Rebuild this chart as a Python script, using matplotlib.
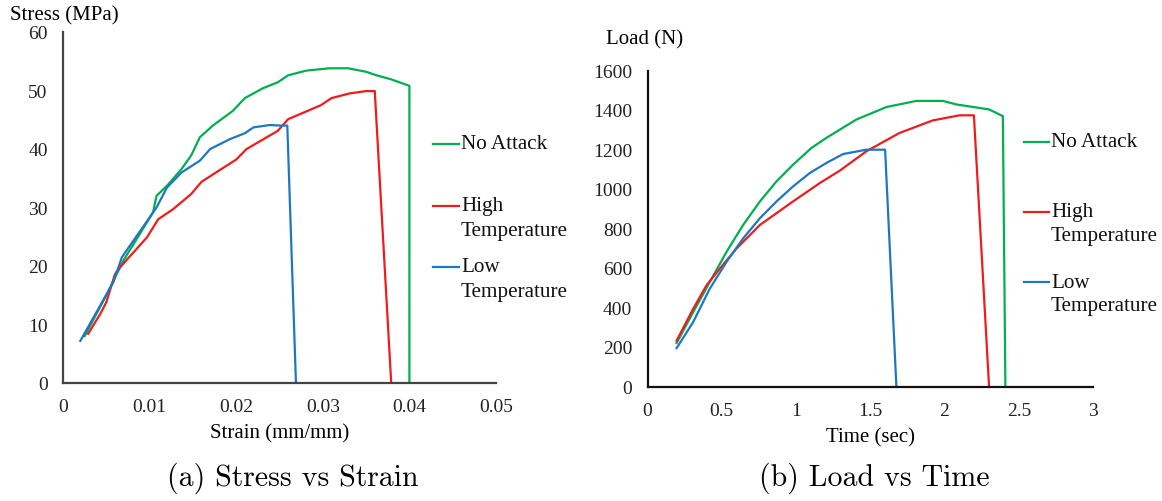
import matplotlib
matplotlib.use("Agg")
import matplotlib.pyplot as plt
from matplotlib.lines import Line2D

# (a) stress vs strain
strain_no = [0.0025, 0.005, 0.007, 0.0095, 0.0104, 0.0108, 0.012, 0.0137, 0.0148, 0.0158, 0.0173,
             0.0196, 0.021, 0.0231, 0.0248, 0.026, 0.0281, 0.0308, 0.0329, 0.035, 0.0362, 0.0379,
             0.040, 0.040]
stress_no = [8.0, 15.0, 21.0, 27.0, 29.2, 32.0, 33.7, 36.6, 38.9, 42.0, 44.0,
             46.5, 48.7, 50.4, 51.4, 52.6, 53.4, 53.8, 53.8, 53.2, 52.6, 51.9,
             50.8, 0.0]
strain_hi = [0.0029, 0.0043, 0.005, 0.006, 0.0066, 0.0097, 0.011, 0.0127, 0.0148, 0.016, 0.020,
             0.0212, 0.0248, 0.026, 0.0298, 0.031, 0.0331, 0.035, 0.036, 0.0379]
stress_hi = [8.4, 11.8, 13.8, 18.6, 19.8, 24.9, 28.0, 29.7, 32.3, 34.4, 38.2,
             40.0, 43.1, 45.1, 47.5, 48.7, 49.5, 49.9, 49.9, 0.0]
strain_lo = [0.002, 0.0058, 0.0068, 0.0108, 0.012, 0.0137, 0.0158, 0.017, 0.0193, 0.021, 0.022,
             0.0239, 0.0252, 0.0259, 0.0269]
stress_lo = [7.2, 17.2, 21.5, 30.0, 33.4, 36.0, 38.0, 40.0, 41.7, 42.7, 43.7,
             44.1, 44.0, 44.0, 0.0]

# (b) load vs time
time_no = [0.196, 0.308, 0.42, 0.533, 0.644, 0.757, 0.869, 0.98, 1.104, 1.205, 1.407, 1.609,
           1.81, 1.99, 2.08, 2.30, 2.393, 2.41]
load_no = [220, 377, 530, 683, 818, 937, 1039, 1123, 1208, 1259, 1352, 1415,
           1446, 1446, 1428, 1403, 1369, 0]
time_hi = [0.196, 0.308, 0.398, 0.488, 0.6, 0.757, 0.98, 1.16, 1.295, 1.474, 1.698, 1.92,
           2.10, 2.198, 2.30]
load_hi = [232, 394, 513, 598, 699, 818, 937, 1030, 1093, 1191, 1284, 1347,
           1373, 1373, 0]
time_lo = [0.196, 0.308, 0.42, 0.533, 0.644, 0.757, 0.869, 0.98, 1.093, 1.205, 1.317, 1.474,
           1.60, 1.676]
load_lo = [194, 327, 496, 632, 750, 852, 937, 1013, 1081, 1132, 1177, 1199,
           1199, 0]

labels = ["No Attack", "High\nTemperature", "Low\nTemperature"]
colors = ["#00b050", "#ee1c1c", "#1f77c4"]

plt.rcParams["font.family"] = ["Liberation Serif", "DejaVu Serif"]

W, H = 1162, 502
fig = plt.figure(figsize=(W / 100, H / 100), dpi=100)
ax1 = fig.add_axes([63 / W, 1 - 384 / H, 433 / W, 351 / H])
ax2 = fig.add_axes([647.5 / W, 1 - 387.5 / H, 445.5 / W, 316 / H])


def style(ax, spine_color):
    for s in ["top", "right"]:
        ax.spines[s].set_visible(False)
    for s in ["left", "bottom"]:
        ax.spines[s].set_color(spine_color)
        ax.spines[s].set_linewidth(1.6)
    ax.tick_params(length=0, labelsize=14, pad=11, colors="#222222")


def legend(x_line, x_text, rows, step):
    # manual legend so the uneven row gaps of the original can be kept
    for lab, c, y in zip(labels, colors, rows):
        fig.add_artist(Line2D([x_line[0] / W, x_line[1] / W], [1 - y / H, 1 - y / H],
                              color=c, lw=1.6))
        for i, part in enumerate(lab.split("\n")):
            fig.text(x_text / W, 1 - (y + i * step) / H, part, fontsize=15.2,
                     ha="left", va="center", color="#111111")


for (x, y), c in zip([(strain_no, stress_no), (strain_hi, stress_hi), (strain_lo, stress_lo)], colors):
    ax1.plot(x, y, color=c, lw=1.6)
ax1.set_xlim(0, 0.05)
ax1.set_ylim(0, 60)
ax1.set_xticks([0, 0.01, 0.02, 0.03, 0.04, 0.05])
ax1.set_xticklabels(["0", "0.01", "0.02", "0.03", "0.04", "0.05"])
ax1.set_yticks(range(0, 61, 10))
style(ax1, "#444444")
ax1.set_xlabel("Strain (mm/mm)", fontsize=15, labelpad=6)
fig.text(10 / W, 1 - 16 / H, "Stress (MPa)", fontsize=15, va="center", ha="left")

for (x, y), c in zip([(time_no, load_no), (time_hi, load_hi), (time_lo, load_lo)], colors):
    ax2.plot(x, y, color=c, lw=1.6)
ax2.set_xlim(0, 3)
ax2.set_ylim(0, 1600)
ax2.set_xticks([0, 0.5, 1, 1.5, 2, 2.5, 3])
ax2.set_xticklabels(["0", "0.5", "1", "1.5", "2", "2.5", "3"])
ax2.set_yticks(range(0, 1601, 200))
style(ax2, "#111111")
ax2.set_xlabel("Time (sec)", fontsize=15, labelpad=6)
fig.text(606 / W, 1 - 40 / H, "Load (N)", fontsize=15, va="center", ha="left")

legend((433, 459), 461, [145, 207, 268], 24.5)
legend((1024, 1049), 1051, [143, 213, 283], 24)

fig.text(293 / W, 1 - 478 / H, "(a) Stress vs Strain", fontsize=21.5,
         family=["cmr10", "DejaVu Serif"], ha="center", va="center")
fig.text(874 / W, 1 - 478 / H, "(b) Load vs Time", fontsize=21.5,
         family=["cmr10", "DejaVu Serif"], ha="center", va="center")

fig.savefig("out.png", dpi=100)
